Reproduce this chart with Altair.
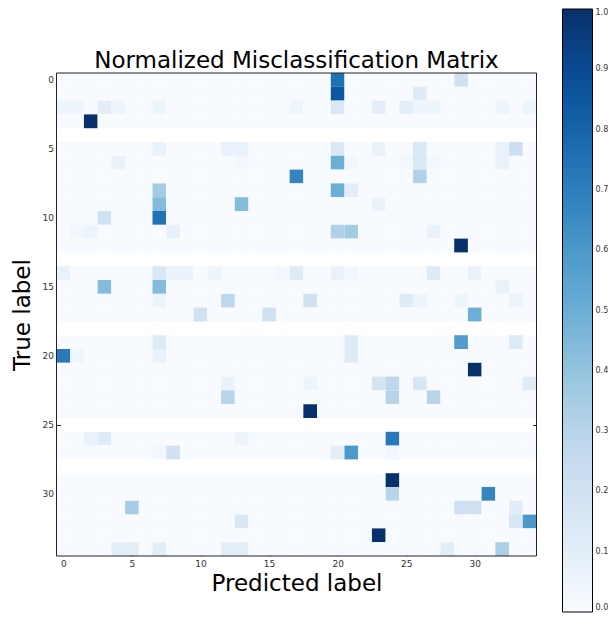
import altair as alt
import pandas as pd

# ---- data ----
n_classes = 35
empty_rows = [4, 13, 18, 25, 28]   # rows drawn blank (no samples)

true_idx = [0, 0, 1, 1,
            2, 2, 2, 2, 2, 2, 2, 2, 2, 2, 2, 2, 2,
            3,
            5, 5, 5, 5, 5, 5, 5, 5,
            6, 6, 6, 6, 6, 6, 6, 6,
            7, 7,
            8, 8, 8,
            9, 9, 9,
            10, 10,
            11, 11, 11, 11, 11, 11,
            12,
            14, 14, 14, 14, 14, 14, 14, 14, 14, 14, 14,
            15, 15, 15,
            16, 16, 16, 16, 16, 16, 16,
            17, 17, 17,
            19, 19, 19, 19,
            20, 20, 20, 20,
            21,
            22, 22, 22, 22, 22, 22,
            23, 23, 23,
            24,
            26, 26, 26, 26,
            27, 27, 27, 27, 27,
            29,
            30, 30,
            31, 31, 31, 31,
            32, 32, 32,
            33,
            34, 34, 34, 34, 34, 34, 34]
pred_idx = [20, 29, 20, 26,
            0, 1, 3, 4, 7, 17, 20, 23, 25, 26, 27, 32, 34,
            2,
            7, 12, 13, 20, 23, 26, 32, 33,
            4, 13, 20, 21, 25, 26, 27, 32,
            17, 26,
            7, 20, 21,
            7, 13, 23,
            3, 7,
            1, 2, 8, 20, 21, 27,
            29,
            0, 7, 8, 9, 11, 16, 17, 20, 21, 27, 30,
            3, 7, 32,
            7, 12, 18, 25, 26, 29, 33,
            10, 15, 30,
            7, 21, 29, 33,
            0, 1, 7, 21,
            30,
            12, 18, 23, 24, 26, 34,
            12, 24, 27,
            18,
            2, 3, 13, 24,
            7, 8, 20, 21, 24,
            24,
            24, 31,
            5, 29, 30, 33,
            13, 33, 34,
            23,
            4, 5, 7, 12, 13, 28, 32]
rates = [0.75, 0.20, 0.85, 0.12,
         0.05, 0.05, 0.10, 0.05, 0.05, 0.05, 0.15, 0.10, 0.10, 0.05, 0.05, 0.05, 0.05,
         1.00,
         0.07, 0.07, 0.07, 0.15, 0.07, 0.15, 0.07, 0.22,
         0.07, 0.03, 0.50, 0.03, 0.03, 0.15, 0.03, 0.07,
         0.68, 0.32,
         0.36, 0.50, 0.10,
         0.44, 0.44, 0.07,
         0.20, 0.75,
         0.03, 0.05, 0.08, 0.32, 0.36, 0.07,
         1.00,
         0.07, 0.15, 0.07, 0.07, 0.05, 0.03, 0.12, 0.07, 0.03, 0.12, 0.07,
         0.44, 0.44, 0.07,
         0.06, 0.28, 0.20, 0.12, 0.05, 0.05, 0.06,
         0.20, 0.20, 0.50,
         0.13, 0.13, 0.58, 0.13,
         0.72, 0.04, 0.07, 0.13,
         1.00,
         0.07, 0.05, 0.18, 0.27, 0.16, 0.12,
         0.30, 0.30, 0.30,
         1.00,
         0.07, 0.12, 0.05, 0.72,
         0.03, 0.20, 0.10, 0.60, 0.03,
         1.00,
         0.30, 0.68,
         0.35, 0.21, 0.21, 0.11,
         0.16, 0.16, 0.60,
         1.00,
         0.10, 0.10, 0.10, 0.10, 0.10, 0.10, 0.33]

tick_values = [0, 5, 10, 15, 20, 25, 30]
bar_values = [0.0, 0.1, 0.2, 0.3, 0.4, 0.5, 0.6, 0.7, 0.8, 0.9, 1.0]

blues_stops = [0, 0.125, 0.25, 0.375, 0.5, 0.625, 0.75, 0.875, 1.0]
blues_colors = ["#f7fbff", "#deebf7", "#c6dbef", "#9ecae1", "#6baed6",
                "#4292c6", "#2171b5", "#08519c", "#08306b"]

# ---- full matrix table ----
lookup = {(t, p): v for t, p, v in zip(true_idx, pred_idx, rates)}
records = []
for t in range(n_classes):
    if t in empty_rows:
        continue
    for p in range(n_classes):
        records.append({"true": t, "pred": p, "rate": lookup.get((t, p), 0.0)})
df = pd.DataFrame(records)
frame_df = pd.DataFrame({"lo": [-0.5], "hi": [n_classes - 0.5]})

font = "DejaVu Sans"
dom = [-0.5, n_classes - 0.5]
xscale = alt.Scale(domain=dom, nice=False, zero=False)
yscale = alt.Scale(domain=dom, nice=False, zero=False, reverse=True)

base = alt.Chart(df).transform_calculate(
    x0="datum.pred - 0.5", x1="datum.pred + 0.5",
    y0="datum.true - 0.5", y1="datum.true + 0.5",
)

heat = base.mark_rect(strokeWidth=0).encode(
    x=alt.X("x0:Q", scale=xscale,
            axis=alt.Axis(values=tick_values, title="Predicted label", grid=False,
                          domain=False, offset=-4, tickSize=4, tickColor="#333",
                          labelPadding=3, labelFontSize=9, labelColor="#333",
                          labelFont=font, titleFont=font, titleFontSize=23,
                          titleFontWeight="normal", titleColor="#000", titlePadding=4,
                          labelFlush=False)),
    x2="x1:Q",
    y=alt.Y("y0:Q", scale=yscale,
            axis=alt.Axis(values=tick_values, title="True label", grid=False,
                          domain=False, offset=-4, tickSize=4, tickColor="#333",
                          labelPadding=3, labelFontSize=9, labelColor="#333",
                          labelFont=font, titleFont=font, titleFontSize=23,
                          titleFontWeight="normal", titleColor="#000", titlePadding=8,
                          labelFlush=False)),
    y2="y1:Q",
    color=alt.Color("rate:Q",
                    scale=alt.Scale(domain=blues_stops, range=blues_colors),
                    legend=alt.Legend(title=None, orient="none", legendX=506, legendY=-64,
                                      gradientLength=603, gradientThickness=30,
                                      gradientStrokeColor="#000", gradientStrokeWidth=1,
                                      values=bar_values, format=".1f",
                                      labelFontSize=8, labelFont=font, labelColor="#333",
                                      labelOffset=3, direction="vertical")),
)

frame_ticks = base.mark_rect(opacity=0).encode(
    x=alt.X("x0:Q", scale=xscale,
            axis=alt.Axis(orient="top", values=tick_values, labels=False, title=None,
                          grid=False, domain=False, offset=-4, tickSize=4, tickColor="#333")),
    x2="x1:Q",
    y=alt.Y("y0:Q", scale=yscale,
            axis=alt.Axis(orient="right", values=tick_values, labels=False, title=None,
                          grid=False, domain=False, offset=-4, tickSize=4, tickColor="#333")),
    y2="y1:Q",
)

frame = alt.Chart(frame_df).mark_rect(fill="transparent", stroke="#222", strokeWidth=1).encode(
    x=alt.X("lo:Q", scale=xscale, axis=None),
    x2="hi:Q",
    y=alt.Y("lo:Q", scale=yscale, axis=None),
    y2="hi:Q",
)

chart = alt.layer(heat, frame_ticks, frame).resolve_axis(
    x="independent", y="independent"
).properties(
    width=480, height=483,
    title=alt.TitleParams("Normalized Misclassification Matrix", font=font, fontSize=23,
                          fontWeight="normal", color="#000", anchor="middle",
                          baseline="alphabetic", offset=0, dy=82),
    autosize=alt.AutoSizeParams(type="none"),
    padding={"left": 48.5, "top": 65, "right": 71.5, "bottom": 61},
).configure_view(strokeWidth=0)

chart.save("out.html", embed_options={"renderer": "svg", "actions": False})
